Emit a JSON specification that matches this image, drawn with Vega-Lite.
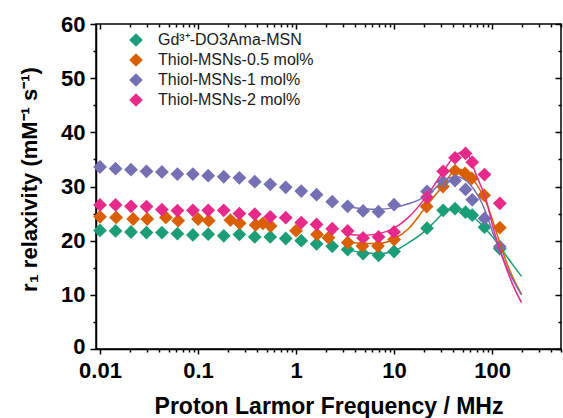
{
  "$schema": "https://vega.github.io/schema/vega-lite/v6.json",
  "width": 465,
  "height": 325,
  "autosize": {"type": "none"},
  "padding": {"left": 96, "top": 24, "right": 2, "bottom": 69},
  "background": "white",
  "datasets": {
    "pts": [
      {"f": 0.01, "r": 21.9, "s": "Gd³⁺-DO3Ama-MSN"},
      {"f": 0.0144, "r": 21.8, "s": "Gd³⁺-DO3Ama-MSN"},
      {"f": 0.0207, "r": 21.6, "s": "Gd³⁺-DO3Ama-MSN"},
      {"f": 0.0298, "r": 21.5, "s": "Gd³⁺-DO3Ama-MSN"},
      {"f": 0.0428, "r": 21.5, "s": "Gd³⁺-DO3Ama-MSN"},
      {"f": 0.0616, "r": 21.3, "s": "Gd³⁺-DO3Ama-MSN"},
      {"f": 0.0886, "r": 21.05, "s": "Gd³⁺-DO3Ama-MSN"},
      {"f": 0.127, "r": 21.2, "s": "Gd³⁺-DO3Ama-MSN"},
      {"f": 0.183, "r": 20.9, "s": "Gd³⁺-DO3Ama-MSN"},
      {"f": 0.264, "r": 21.15, "s": "Gd³⁺-DO3Ama-MSN"},
      {"f": 0.379, "r": 20.7, "s": "Gd³⁺-DO3Ama-MSN"},
      {"f": 0.546, "r": 20.7, "s": "Gd³⁺-DO3Ama-MSN"},
      {"f": 0.785, "r": 20.4, "s": "Gd³⁺-DO3Ama-MSN"},
      {"f": 1.13, "r": 20.0, "s": "Gd³⁺-DO3Ama-MSN"},
      {"f": 1.62, "r": 19.4, "s": "Gd³⁺-DO3Ama-MSN"},
      {"f": 2.34, "r": 18.95, "s": "Gd³⁺-DO3Ama-MSN"},
      {"f": 3.36, "r": 18.35, "s": "Gd³⁺-DO3Ama-MSN"},
      {"f": 4.83, "r": 17.6, "s": "Gd³⁺-DO3Ama-MSN"},
      {"f": 6.95, "r": 17.3, "s": "Gd³⁺-DO3Ama-MSN"},
      {"f": 10, "r": 18.0, "s": "Gd³⁺-DO3Ama-MSN"},
      {"f": 21.7, "r": 22.3, "s": "Gd³⁺-DO3Ama-MSN"},
      {"f": 31.7, "r": 25.6, "s": "Gd³⁺-DO3Ama-MSN"},
      {"f": 41.9, "r": 25.9, "s": "Gd³⁺-DO3Ama-MSN"},
      {"f": 53.6, "r": 25.25, "s": "Gd³⁺-DO3Ama-MSN"},
      {"f": 62.8, "r": 24.7, "s": "Gd³⁺-DO3Ama-MSN"},
      {"f": 83.7, "r": 22.5, "s": "Gd³⁺-DO3Ama-MSN"},
      {"f": 120, "r": 18.5, "s": "Gd³⁺-DO3Ama-MSN"},
      {"f": 0.01, "r": 24.4, "s": "Thiol-MSNs-0.5 mol%"},
      {"f": 0.0146, "r": 24.3, "s": "Thiol-MSNs-0.5 mol%"},
      {"f": 0.0218, "r": 24.0, "s": "Thiol-MSNs-0.5 mol%"},
      {"f": 0.0303, "r": 24.0, "s": "Thiol-MSNs-0.5 mol%"},
      {"f": 0.047, "r": 24.3, "s": "Thiol-MSNs-0.5 mol%"},
      {"f": 0.0627, "r": 23.7, "s": "Thiol-MSNs-0.5 mol%"},
      {"f": 0.1, "r": 24.0, "s": "Thiol-MSNs-0.5 mol%"},
      {"f": 0.1286, "r": 23.7, "s": "Thiol-MSNs-0.5 mol%"},
      {"f": 0.214, "r": 23.8, "s": "Thiol-MSNs-0.5 mol%"},
      {"f": 0.266, "r": 23.2, "s": "Thiol-MSNs-0.5 mol%"},
      {"f": 0.387, "r": 22.9, "s": "Thiol-MSNs-0.5 mol%"},
      {"f": 0.459, "r": 23.2, "s": "Thiol-MSNs-0.5 mol%"},
      {"f": 0.55, "r": 22.7, "s": "Thiol-MSNs-0.5 mol%"},
      {"f": 1.0, "r": 21.85, "s": "Thiol-MSNs-0.5 mol%"},
      {"f": 1.64, "r": 21.15, "s": "Thiol-MSNs-0.5 mol%"},
      {"f": 2.14, "r": 20.55, "s": "Thiol-MSNs-0.5 mol%"},
      {"f": 3.37, "r": 19.65, "s": "Thiol-MSNs-0.5 mol%"},
      {"f": 4.75, "r": 19.0, "s": "Thiol-MSNs-0.5 mol%"},
      {"f": 6.85, "r": 19.0, "s": "Thiol-MSNs-0.5 mol%"},
      {"f": 10, "r": 20.2, "s": "Thiol-MSNs-0.5 mol%"},
      {"f": 21.5, "r": 26.3, "s": "Thiol-MSNs-0.5 mol%"},
      {"f": 31.5, "r": 30.0, "s": "Thiol-MSNs-0.5 mol%"},
      {"f": 41.9, "r": 32.9, "s": "Thiol-MSNs-0.5 mol%"},
      {"f": 53, "r": 32.4, "s": "Thiol-MSNs-0.5 mol%"},
      {"f": 62, "r": 31.5, "s": "Thiol-MSNs-0.5 mol%"},
      {"f": 83, "r": 28.4, "s": "Thiol-MSNs-0.5 mol%"},
      {"f": 120, "r": 22.4, "s": "Thiol-MSNs-0.5 mol%"},
      {"f": 0.01, "r": 33.6, "s": "Thiol-MSNs-1 mol%"},
      {"f": 0.0144, "r": 33.3, "s": "Thiol-MSNs-1 mol%"},
      {"f": 0.0207, "r": 33.1, "s": "Thiol-MSNs-1 mol%"},
      {"f": 0.0298, "r": 32.8, "s": "Thiol-MSNs-1 mol%"},
      {"f": 0.0428, "r": 32.7, "s": "Thiol-MSNs-1 mol%"},
      {"f": 0.0616, "r": 32.3, "s": "Thiol-MSNs-1 mol%"},
      {"f": 0.0886, "r": 32.3, "s": "Thiol-MSNs-1 mol%"},
      {"f": 0.127, "r": 32.0, "s": "Thiol-MSNs-1 mol%"},
      {"f": 0.183, "r": 31.8, "s": "Thiol-MSNs-1 mol%"},
      {"f": 0.264, "r": 31.6, "s": "Thiol-MSNs-1 mol%"},
      {"f": 0.379, "r": 30.9, "s": "Thiol-MSNs-1 mol%"},
      {"f": 0.546, "r": 30.4, "s": "Thiol-MSNs-1 mol%"},
      {"f": 0.785, "r": 29.85, "s": "Thiol-MSNs-1 mol%"},
      {"f": 1.13, "r": 29.15, "s": "Thiol-MSNs-1 mol%"},
      {"f": 1.62, "r": 28.5, "s": "Thiol-MSNs-1 mol%"},
      {"f": 2.34, "r": 27.2, "s": "Thiol-MSNs-1 mol%"},
      {"f": 3.36, "r": 26.35, "s": "Thiol-MSNs-1 mol%"},
      {"f": 4.83, "r": 25.5, "s": "Thiol-MSNs-1 mol%"},
      {"f": 6.95, "r": 25.35, "s": "Thiol-MSNs-1 mol%"},
      {"f": 10, "r": 26.65, "s": "Thiol-MSNs-1 mol%"},
      {"f": 21.7, "r": 29.1, "s": "Thiol-MSNs-1 mol%"},
      {"f": 31.7, "r": 30.9, "s": "Thiol-MSNs-1 mol%"},
      {"f": 41.9, "r": 31.1, "s": "Thiol-MSNs-1 mol%"},
      {"f": 53.6, "r": 29.45, "s": "Thiol-MSNs-1 mol%"},
      {"f": 62.8, "r": 27.55, "s": "Thiol-MSNs-1 mol%"},
      {"f": 83.7, "r": 24.1, "s": "Thiol-MSNs-1 mol%"},
      {"f": 120, "r": 18.9, "s": "Thiol-MSNs-1 mol%"},
      {"f": 0.01, "r": 26.6, "s": "Thiol-MSNs-2 mol%"},
      {"f": 0.0144, "r": 26.6, "s": "Thiol-MSNs-2 mol%"},
      {"f": 0.0207, "r": 26.35, "s": "Thiol-MSNs-2 mol%"},
      {"f": 0.0298, "r": 26.3, "s": "Thiol-MSNs-2 mol%"},
      {"f": 0.0428, "r": 25.75, "s": "Thiol-MSNs-2 mol%"},
      {"f": 0.0616, "r": 25.55, "s": "Thiol-MSNs-2 mol%"},
      {"f": 0.0886, "r": 25.6, "s": "Thiol-MSNs-2 mol%"},
      {"f": 0.127, "r": 25.6, "s": "Thiol-MSNs-2 mol%"},
      {"f": 0.183, "r": 25.6, "s": "Thiol-MSNs-2 mol%"},
      {"f": 0.264, "r": 25.0, "s": "Thiol-MSNs-2 mol%"},
      {"f": 0.379, "r": 24.9, "s": "Thiol-MSNs-2 mol%"},
      {"f": 0.546, "r": 24.4, "s": "Thiol-MSNs-2 mol%"},
      {"f": 0.785, "r": 24.25, "s": "Thiol-MSNs-2 mol%"},
      {"f": 1.13, "r": 23.35, "s": "Thiol-MSNs-2 mol%"},
      {"f": 1.62, "r": 23.0, "s": "Thiol-MSNs-2 mol%"},
      {"f": 2.34, "r": 22.2, "s": "Thiol-MSNs-2 mol%"},
      {"f": 3.36, "r": 21.8, "s": "Thiol-MSNs-2 mol%"},
      {"f": 4.83, "r": 20.5, "s": "Thiol-MSNs-2 mol%"},
      {"f": 6.95, "r": 20.7, "s": "Thiol-MSNs-2 mol%"},
      {"f": 10, "r": 21.6, "s": "Thiol-MSNs-2 mol%"},
      {"f": 21.7, "r": 28.0, "s": "Thiol-MSNs-2 mol%"},
      {"f": 31.7, "r": 32.8, "s": "Thiol-MSNs-2 mol%"},
      {"f": 41.9, "r": 35.3, "s": "Thiol-MSNs-2 mol%"},
      {"f": 53.6, "r": 36.1, "s": "Thiol-MSNs-2 mol%"},
      {"f": 62.8, "r": 34.5, "s": "Thiol-MSNs-2 mol%"},
      {"f": 83.7, "r": 32.2, "s": "Thiol-MSNs-2 mol%"},
      {"f": 120, "r": 26.9, "s": "Thiol-MSNs-2 mol%"}
    ],
    "fits": [
      {"f": 3.4, "r": 18.3, "s": "Gd³⁺-DO3Ama-MSN"},
      {"f": 4.8, "r": 17.8, "s": "Gd³⁺-DO3Ama-MSN"},
      {"f": 7, "r": 17.6, "s": "Gd³⁺-DO3Ama-MSN"},
      {"f": 10, "r": 18.1, "s": "Gd³⁺-DO3Ama-MSN"},
      {"f": 14, "r": 19.6, "s": "Gd³⁺-DO3Ama-MSN"},
      {"f": 19.5, "r": 21.4, "s": "Gd³⁺-DO3Ama-MSN"},
      {"f": 25, "r": 23.2, "s": "Gd³⁺-DO3Ama-MSN"},
      {"f": 31, "r": 24.9, "s": "Gd³⁺-DO3Ama-MSN"},
      {"f": 38, "r": 25.8, "s": "Gd³⁺-DO3Ama-MSN"},
      {"f": 45, "r": 25.9, "s": "Gd³⁺-DO3Ama-MSN"},
      {"f": 52, "r": 25.5, "s": "Gd³⁺-DO3Ama-MSN"},
      {"f": 62, "r": 24.6, "s": "Gd³⁺-DO3Ama-MSN"},
      {"f": 74, "r": 23.4, "s": "Gd³⁺-DO3Ama-MSN"},
      {"f": 87, "r": 22.0, "s": "Gd³⁺-DO3Ama-MSN"},
      {"f": 101, "r": 20.7, "s": "Gd³⁺-DO3Ama-MSN"},
      {"f": 120, "r": 18.9, "s": "Gd³⁺-DO3Ama-MSN"},
      {"f": 140, "r": 17.2, "s": "Gd³⁺-DO3Ama-MSN"},
      {"f": 165, "r": 15.4, "s": "Gd³⁺-DO3Ama-MSN"},
      {"f": 200, "r": 13.4, "s": "Gd³⁺-DO3Ama-MSN"},
      {"f": 3.4, "r": 19.8, "s": "Thiol-MSNs-0.5 mol%"},
      {"f": 4.8, "r": 19.5, "s": "Thiol-MSNs-0.5 mol%"},
      {"f": 7, "r": 19.5, "s": "Thiol-MSNs-0.5 mol%"},
      {"f": 10, "r": 20.3, "s": "Thiol-MSNs-0.5 mol%"},
      {"f": 14, "r": 22.2, "s": "Thiol-MSNs-0.5 mol%"},
      {"f": 21, "r": 26.2, "s": "Thiol-MSNs-0.5 mol%"},
      {"f": 26, "r": 28.3, "s": "Thiol-MSNs-0.5 mol%"},
      {"f": 31, "r": 30.0, "s": "Thiol-MSNs-0.5 mol%"},
      {"f": 37, "r": 32.0, "s": "Thiol-MSNs-0.5 mol%"},
      {"f": 44, "r": 33.2, "s": "Thiol-MSNs-0.5 mol%"},
      {"f": 52, "r": 33.0, "s": "Thiol-MSNs-0.5 mol%"},
      {"f": 61, "r": 31.8, "s": "Thiol-MSNs-0.5 mol%"},
      {"f": 70, "r": 30.3, "s": "Thiol-MSNs-0.5 mol%"},
      {"f": 79, "r": 28.7, "s": "Thiol-MSNs-0.5 mol%"},
      {"f": 90, "r": 26.4, "s": "Thiol-MSNs-0.5 mol%"},
      {"f": 101, "r": 23.8, "s": "Thiol-MSNs-0.5 mol%"},
      {"f": 118, "r": 20.0, "s": "Thiol-MSNs-0.5 mol%"},
      {"f": 138, "r": 16.4, "s": "Thiol-MSNs-0.5 mol%"},
      {"f": 165, "r": 13.0, "s": "Thiol-MSNs-0.5 mol%"},
      {"f": 200, "r": 10.1, "s": "Thiol-MSNs-0.5 mol%"},
      {"f": 3.4, "r": 26.2, "s": "Thiol-MSNs-1 mol%"},
      {"f": 4.8, "r": 25.9, "s": "Thiol-MSNs-1 mol%"},
      {"f": 7, "r": 25.8, "s": "Thiol-MSNs-1 mol%"},
      {"f": 10, "r": 26.1, "s": "Thiol-MSNs-1 mol%"},
      {"f": 14, "r": 26.8, "s": "Thiol-MSNs-1 mol%"},
      {"f": 21, "r": 28.2, "s": "Thiol-MSNs-1 mol%"},
      {"f": 26, "r": 29.6, "s": "Thiol-MSNs-1 mol%"},
      {"f": 31, "r": 30.9, "s": "Thiol-MSNs-1 mol%"},
      {"f": 37, "r": 31.6, "s": "Thiol-MSNs-1 mol%"},
      {"f": 44, "r": 31.8, "s": "Thiol-MSNs-1 mol%"},
      {"f": 51, "r": 31.4, "s": "Thiol-MSNs-1 mol%"},
      {"f": 58, "r": 30.6, "s": "Thiol-MSNs-1 mol%"},
      {"f": 68, "r": 29.0, "s": "Thiol-MSNs-1 mol%"},
      {"f": 79, "r": 26.9, "s": "Thiol-MSNs-1 mol%"},
      {"f": 90, "r": 24.3, "s": "Thiol-MSNs-1 mol%"},
      {"f": 104, "r": 21.0, "s": "Thiol-MSNs-1 mol%"},
      {"f": 120, "r": 18.3, "s": "Thiol-MSNs-1 mol%"},
      {"f": 138, "r": 15.5, "s": "Thiol-MSNs-1 mol%"},
      {"f": 165, "r": 12.6, "s": "Thiol-MSNs-1 mol%"},
      {"f": 200, "r": 10.0, "s": "Thiol-MSNs-1 mol%"},
      {"f": 3.4, "r": 21.2, "s": "Thiol-MSNs-2 mol%"},
      {"f": 4.8, "r": 21.0, "s": "Thiol-MSNs-2 mol%"},
      {"f": 7, "r": 21.3, "s": "Thiol-MSNs-2 mol%"},
      {"f": 10, "r": 22.3, "s": "Thiol-MSNs-2 mol%"},
      {"f": 14, "r": 24.3, "s": "Thiol-MSNs-2 mol%"},
      {"f": 21, "r": 28.0, "s": "Thiol-MSNs-2 mol%"},
      {"f": 26, "r": 30.4, "s": "Thiol-MSNs-2 mol%"},
      {"f": 31, "r": 32.5, "s": "Thiol-MSNs-2 mol%"},
      {"f": 41, "r": 35.5, "s": "Thiol-MSNs-2 mol%"},
      {"f": 50, "r": 36.4, "s": "Thiol-MSNs-2 mol%"},
      {"f": 58, "r": 35.6, "s": "Thiol-MSNs-2 mol%"},
      {"f": 68, "r": 32.4, "s": "Thiol-MSNs-2 mol%"},
      {"f": 78, "r": 29.8, "s": "Thiol-MSNs-2 mol%"},
      {"f": 87, "r": 27.5, "s": "Thiol-MSNs-2 mol%"},
      {"f": 104, "r": 22.0, "s": "Thiol-MSNs-2 mol%"},
      {"f": 120, "r": 18.3, "s": "Thiol-MSNs-2 mol%"},
      {"f": 138, "r": 15.2, "s": "Thiol-MSNs-2 mol%"},
      {"f": 165, "r": 11.6, "s": "Thiol-MSNs-2 mol%"},
      {"f": 200, "r": 8.55, "s": "Thiol-MSNs-2 mol%"}
    ]
  },
  "layer": [
    {
      "data": {"name": "pts"},
      "mark": {"type": "point", "shape": "diamond", "filled": true, "size": 190, "opacity": 1},
      "encoding": {
        "x": {
          "field": "f", "type": "quantitative",
          "scale": {"type": "log", "domain": [0.0091, 505], "nice": false},
          "axis": {
            "orient": "bottom",
            "title": "Proton Larmor Frequency / MHz",
            "titleFontSize": 23,
            "values": [0.01,0.02,0.03,0.04,0.05,0.06,0.07,0.08,0.09,0.1,0.2,0.3,0.4,0.5,0.6,0.7,0.8,0.9,1,2,3,4,5,6,7,8,9,10,20,30,40,50,60,70,80,90,100,200,300,400,500],
            "labelExpr": "indexof([0.01,0.1,1,10,100], datum.value) >= 0 ? (datum.value == 0.01 ? '0.01' : datum.value == 0.1 ? '0.1' : datum.value == 1 ? '1' : datum.value == 10 ? '10' : '100') : ''",
            "tickSize": {"condition": {"test": "indexof([0.01,0.1,1,10,100], datum.value) >= 0", "value": 5}, "value": 3},
            "labelOverlap": false,
            "labelFlush": false,
            "labelBound": false,
            "labelPadding": 6,
            "titlePadding": 14
          }
        },
        "y": {
          "field": "r", "type": "quantitative",
          "scale": {"domain": [0, 60], "nice": false},
          "axis": {
            "orient": "left",
            "title": "r₁ relaxivity (mM⁻¹ s⁻¹)",
            "titleY": 155,
            "values": [0,5,10,15,20,25,30,35,40,45,50,55,60],
            "labelExpr": "datum.value % 10 == 0 ? datum.label : ''",
            "labelOffset": {"condition": {"test": "datum.value == 0", "value": -3}, "value": 0},
            "tickSize": {"condition": {"test": "datum.value % 10 == 0", "value": 6}, "value": 3},
            "labelOverlap": false,
            "labelFlush": false,
            "labelBound": false,
            "labelPadding": 5,
            "titlePadding": 19
          }
        },
        "color": {
          "field": "s", "type": "nominal",
          "scale": {
            "domain": ["Gd³⁺-DO3Ama-MSN", "Thiol-MSNs-0.5 mol%", "Thiol-MSNs-1 mol%", "Thiol-MSNs-2 mol%"],
            "range": ["#1b9e77", "#d95f02", "#7570b3", "#e7298a"]
          },
          "legend": {
            "orient": "none", "legendX": 32, "legendY": 8, "title": null,
            "symbolType": "diamond", "symbolSize": 185, "symbolStrokeWidth": 0,
            "labelFont": "Liberation Sans", "labelFontSize": 16, "labelColor": "#1a1a1a",
            "labelOffset": 14, "rowPadding": 4, "padding": 0
          }
        },
        "order": {"field": "s", "type": "nominal"}
      }
    },
    {
      "data": {"name": "fits"},
      "mark": {"type": "line", "interpolate": "monotone", "strokeWidth": 1.5},
      "encoding": {
        "x": {
          "field": "f", "type": "quantitative",
          "axis": {
            "orient": "top", "title": null, "labels": false, "domain": false,
            "values": [0.01,0.02,0.03,0.04,0.05,0.06,0.07,0.08,0.09,0.1,0.2,0.3,0.4,0.5,0.6,0.7,0.8,0.9,1,2,3,4,5,6,7,8,9,10,20,30,40,50,60,70,80,90,100,200,300,400,500],
            "tickSize": {"condition": {"test": "indexof([0.01,0.1,1,10,100], datum.value) >= 0", "value": -5}, "value": -3}
          }
        },
        "y": {
          "field": "r", "type": "quantitative",
          "axis": {
            "orient": "right", "title": null, "labels": false, "domain": false,
            "values": [0,5,10,15,20,25,30,35,40,45,50,55,60],
            "tickSize": {"condition": {"test": "datum.value % 10 == 0", "value": -6}, "value": -3}
          }
        },
        "color": {"field": "s", "type": "nominal", "legend": null}
      }
    }
  ],
  "resolve": {"axis": {"x": "independent", "y": "independent"}},
  "config": {
    "view": {"stroke": "black", "strokeWidth": 1.5},
    "axis": {
      "labelFont": "Liberation Sans", "labelFontWeight": "bold", "labelFontSize": 22, "labelColor": "black",
      "titleFont": "Liberation Sans", "titleFontWeight": "bold", "titleFontSize": 22, "titleColor": "black",
      "domainColor": "black", "domainWidth": 1.5, "tickColor": "black", "tickWidth": 1.5, "grid": false
    }
  }
}
